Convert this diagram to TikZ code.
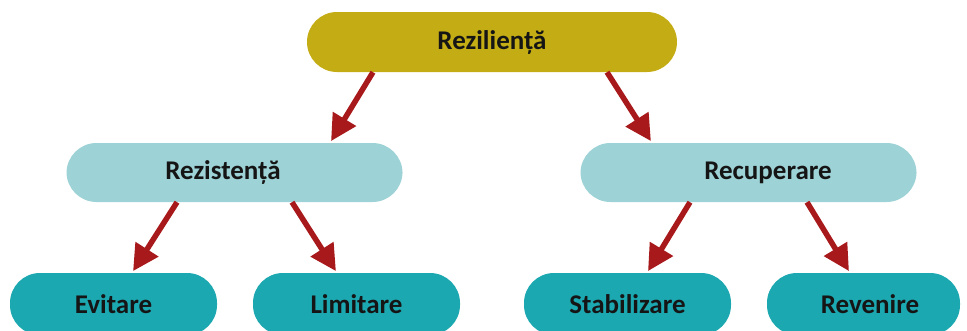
\documentclass[tikz,border=0pt]{standalone}
\usepackage{fontspec}
\setmainfont{Carlito}
\usetikzlibrary{arrows.meta}
\definecolor{topcol}{HTML}{C4AD14}
\definecolor{midcol}{HTML}{9DD2D6}
\definecolor{botcol}{HTML}{1CA8B1}
\definecolor{arrcol}{HTML}{A8191B}
\definecolor{txtcol}{HTML}{151515}
\tikzset{
  box/.style={rectangle, rounded corners=30pt, inner sep=0pt, draw=none,
    font=\bfseries\fontsize{27}{30}\selectfont, text=txtcol},
  topbox/.style={box, fill=topcol, minimum width=370pt, minimum height=60pt},
  midbox/.style={box, fill=midcol, minimum width=336pt, minimum height=59pt},
  botbox/.style={box, fill=botcol, minimum width=207pt, minimum height=62pt},
  arr/.style={draw=arrcol, line width=5.5pt, shorten >=2pt,
    -{Triangle[length=26pt,width=26pt,fill=arrcol]}}
}
\begin{document}
\begin{tikzpicture}[x=1pt,y=-1pt]
\useasboundingbox (0,0) rectangle (967,330);
\begin{scope}
\clip (0,0) rectangle (967,330);
\node[topbox] (rez) at (492,42) {Rezilienț\u{a}};
\node[midbox] (rzt) at (234.5,172.5) {Rezistenț\u{a}\hspace*{23pt}};
\node[midbox] (rec) at (748.5,172.5) {\hspace*{39pt}Recuperare};
\node[botbox] (evi) at (113.5,304) {Evitare};
\node[botbox] (lim) at (356.5,304) {Limitare};
\node[botbox] (sta) at (627.5,304) {Stabilizare};
\node[botbox, minimum width=193pt] (rev) at (863.5,304) {\hspace*{13pt}Revenire};
\end{scope}
\draw[arr] ([xshift=-119pt]rez.south) -- ([xshift=95.5pt]rzt.north);
\draw[arr] ([xshift=115pt]rez.south) -- ([xshift=-96.5pt]rec.north);
\draw[arr] ([xshift=-57.5pt]rzt.south) -- ([xshift=18.5pt]evi.north);
\draw[arr] ([xshift=57.5pt]rzt.south) -- ([xshift=-19.5pt]lim.north);
\draw[arr] ([xshift=-58.5pt]rec.south) -- ([xshift=19.5pt]sta.north);
\draw[arr] ([xshift=58.5pt]rec.south) -- ([xshift=-13.5pt]rev.north);
\end{tikzpicture}
\end{document}
